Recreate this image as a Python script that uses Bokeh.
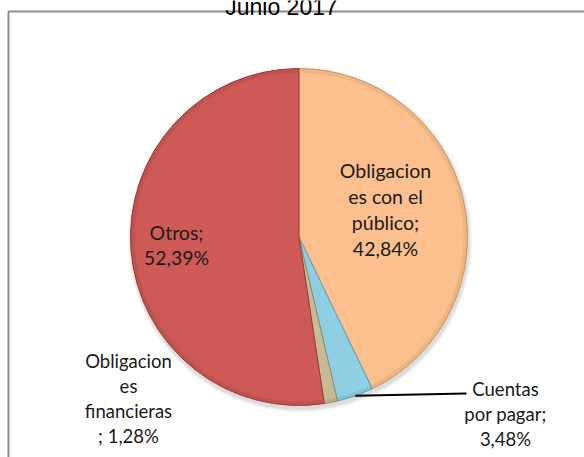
import math
from bokeh.plotting import figure
from bokeh.models import Range1d
from bokeh.core.properties import value
from bokeh.embed import file_html
from bokeh.resources import INLINE

# ---- data ----
title_text = "Junio 2017"
categories = ["Obligaciones con el público", "Cuentas por pagar",
              "Obligaciones financieras", "Otros"]
shares = [42.84, 3.48, 1.28, 52.39]
label_texts = ["Obligacion\nes con el\npúblico;\n42,84%",
               "Cuentas\npor pagar;\n3,48%",
               "Obligacion\nes\nfinancieras\n; 1,28%",
               "Otros;\n52,39%"]
colors = ["#FBC08E", "#8FCFE3", "#C5BB94", "#CD5A57"]
edge_colors = ["#C9945F", "#5E9FB3", "#958B66", "#9C3A38"]

# ---- layout (page pixel coords; y measured downward from page top) ----
W, H = 584, 457
def Y(page_y):
    return H - page_y

cx, cy, r = 298.5, 236.5, 168.5
label_pos = [(385, 170, 26, 19.5), (505, 388, 25, 18.5),
             (128, 360, 25.3, 18.5), (176, 232, 25, 19.5)]

p = figure(width=W, height=H, output_backend="svg", toolbar_location=None,
           x_range=Range1d(0, W), y_range=Range1d(0, H),
           min_border=0, background_fill_color="white")
p.axis.visible = False
p.grid.visible = False
p.outline_line_color = None

# chart area border
p.quad(left=[8], right=[700], top=[Y(11)], bottom=[-100],
       fill_color=None, line_color="#8C8C8C", line_width=2)

# soft shadow
for k, a in [(4, 0.05), (3, 0.06), (2, 0.08), (1, 0.1)]:
    p.circle(x=[cx + 1], y=[Y(cy + 3)], radius=r + k, fill_color="#7F7F7F",
             fill_alpha=a, line_color=None)

# wedges, clockwise from 12 o'clock
total = sum(shares)
starts, ends = [], []
acc = 0.0
for s in shares:
    starts.append(math.radians(90 - acc / total * 360))
    acc += s
    ends.append(math.radians(90 - acc / total * 360))

p.wedge(x=[cx] * len(shares), y=[Y(cy)] * len(shares), radius=r,
        start_angle=starts, end_angle=ends, direction="clock",
        fill_color=colors, line_color=edge_colors, line_width=1)

# subtle bevel ring
p.annular_wedge(x=[cx] * len(shares), y=[Y(cy)] * len(shares),
                inner_radius=r - 4, outer_radius=r,
                start_angle=starts, end_angle=ends, direction="clock",
                fill_color=edge_colors, fill_alpha=0.25, line_color=None)

# leader line for "Cuentas por pagar"
mid = (starts[1] + ends[1]) / 2
sx, sy = cx + r * math.cos(mid), cy - r * math.sin(mid)
p.line(x=[sx, 466], y=[Y(sy), Y(393)], line_color="black", line_width=2)

# labels
for txt, (lx, ly, lsp, fs) in zip(label_texts, label_pos):
    lines = txt.split("\n")
    p.text(x=[lx] * len(lines), y=[Y(ly + i * lsp) for i in range(len(lines))],
           text=lines, text_align="center", text_baseline="middle",
           text_font=value("Lato"), text_font_size=f"{fs}px",
           text_color="#1A1A1A")

# title (mostly cut off at the top, as in the reference)
p.text(x=[281], y=[Y(6)], text=[title_text], text_align="center",
       text_baseline="alphabetic", text_font=value("Liberation Sans"),
       text_font_size="23px", text_color="#000000")

open("out.html", "w").write(file_html(p, INLINE))
